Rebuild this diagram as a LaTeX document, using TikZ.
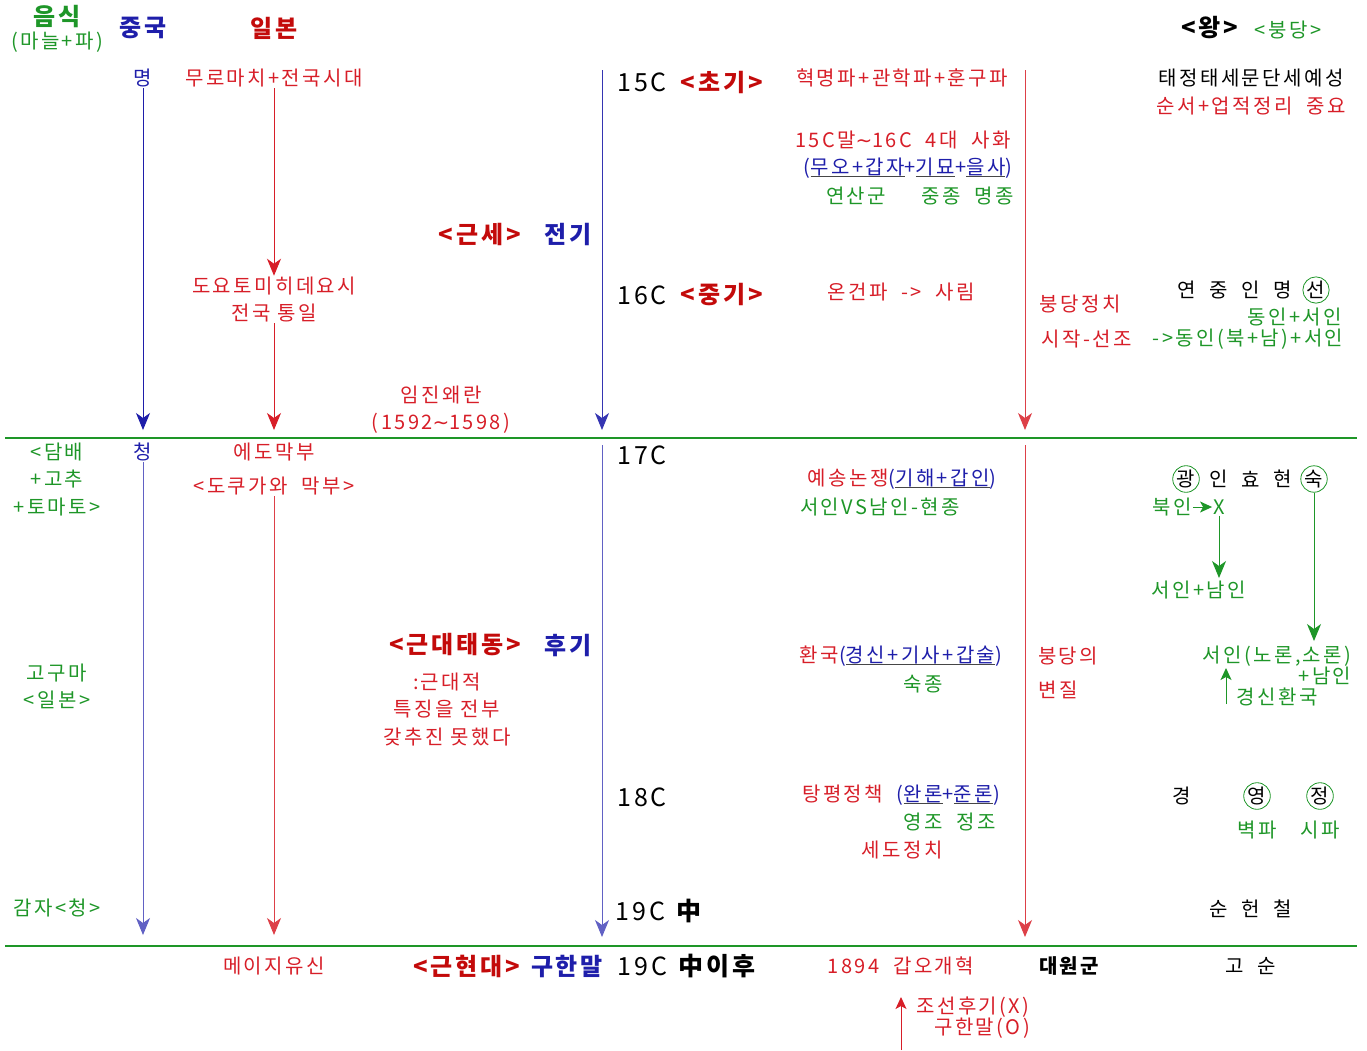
\documentclass[tikz,border=0pt]{standalone}
\usepackage{fontspec}
\setmainfont{Noto Sans CJK KR}[LetterSpace=12]
\newfontfamily\symf{DejaVu Sans}
\usetikzlibrary{arrows.meta}
\definecolor{hred}{RGB}{215,30,40}
\definecolor{dred}{RGB}{195,10,10}
\definecolor{hblue}{RGB}{30,30,170}
\definecolor{hgreen}{RGB}{30,150,40}
\definecolor{ulgray}{RGB}{70,70,70}
\newcommand{\ulg}[1]{\setbox0=\hbox{#1}\rlap{\color{ulgray}\rule[-3pt]{\wd0}{1.1pt}}\box0}
\newcommand{\wave}{{\symf ∼}}
\begin{document}
\begin{tikzpicture}[x=1pt, y=-1pt,
  t/.style={font=\fontsize{20}{23}\selectfont, inner sep=1pt},
  big/.style={font=\fontsize{25}{27}\selectfont, inner sep=1pt},
  hd/.style={font=\fontsize{24}{26}\selectfont\bfseries, inner sep=1pt},
  ck/.style={t, circle, draw=hgreen, line width=0.8pt, inner sep=0.3pt},
  arr/.style={-{Stealth[length=17pt,width=14pt,inset=5pt]}, line width=1pt},
  sarr/.style={-{Stealth[length=12pt,width=11pt,inset=3pt]}, line width=1pt}]
  \useasboundingbox (0,0) rectangle (1367,1050);
  % headings
  \node[hd, text=hgreen] (food) at (57,17) {음식};
  \node[t, text=hgreen] (garlic) at (57,42) {(마늘+파)};
  \node[hd, text=hblue] (china) at (143,28) {중국};
  \node[hd, text=dred] (japan) at (274,28) {일본};
  \node[hd] (king) at (1210,28) {<왕>};
  \node[t, text=hgreen] (faction) at (1288,30) {<붕당>};
  % dividers
  \draw[hgreen, line width=1.2pt] (5,438) -- (1357,438);
  \draw[hgreen, line width=1.2pt] (5,946) -- (1357,946);
  % china / japan, first part
  \node[t, text=hblue] (ming) at (143,78) {명};
  \node[t, text=hred] (muromachi) at (274,78) {무로마치+전국시대};
  \node[t, text=hred] (toyotomi) at (274,286) {도요토미히데요시};
  \node[t, text=hred] (unify) at (274,313) {전국 통일};
  \node[t, text=hred] (imjin) at (441,395) {임진왜란};
  \node[t, text=hred] (imjinyr) at (441,423) {(1592\wave1598)};
  \coordinate (mingend) at (143,430);
  \coordinate (unifyend) at (274,430);
  \draw[arr, hblue] (ming.south) -- (mingend);
  \draw[arr, hred] (muromachi.south) -- (toyotomi.north);
  \draw[arr, hred] (unify.south) -- (unifyend);
  % timeline
  \coordinate (btop) at (602,70);
  \coordinate (bmid) at (602,430);
  \coordinate (btop2) at (602,445);
  \coordinate (bend) at (602,937);
  \coordinate (rtop) at (1025,70);
  \coordinate (rmid) at (1025,430);
  \coordinate (rtop2) at (1025,445);
  \coordinate (rend) at (1025,937);
  \draw[arr, hblue!90!white] (btop) -- (bmid);
  \draw[arr, hblue!70!white] (btop2) -- (bend);
  \draw[arr, hred!85!white] (rtop) -- (rmid);
  \draw[arr, hred!85!white] (rtop2) -- (rend);
  \node[big] (c15) at (642,82) {15C};
  \node[hd, text=dred] (early) at (722,82) {<초기>};
  \node[hd, text=dred] (modern) at (480,234) {<근세>};
  \node[hd, text=hblue] (former) at (568,234) {전기};
  \node[big] (c16) at (642,295) {16C};
  \node[hd, text=dred] (middle) at (722,295) {<중기>};
  \node[big] (c17) at (642,455) {17C};
  \node[hd, text=dred] (premod) at (455,645) {<근대태동>};
  \node[hd, text=hblue] (latter) at (568,645) {후기};
  \node[t, text=hred] (pm1) at (447,682) {:근대적};
  \node[t, text=hred] (pm2) at (447,709) {특징을 전부};
  \node[t, text=hred] (pm3) at (447,737) {갖추진 못했다};
  \node[big] (c18) at (642,797) {18C};
  \node[big] (c19) at (660,911) {19C \textbf{中}};
  % politics, first part
  \node[t, text=hred] (hunku) at (902,78) {혁명파+관학파+훈구파};
  \node[t, text=hred] (sahwa) at (903,140) {15C말\wave16C\ \ 4대\ \ 사화};
  \node[t, text=hblue] (sahwa2) at (908,168) {(\ulg{무오+갑자}+\ulg{기묘}+\ulg{을사})};
  \node[t, text=hgreen] (yeonsan) at (856,196) {연산군};
  \node[t, text=hgreen] (jungjong) at (968,196) {중종\ \ 명종};
  \node[t, text=hred] (sarim) at (901,292) {온건파\ \ ->\ \ 사림};
  \node[t, text=hred] (bung1) at (1080,304) {붕당정치};
  \node[t, text=hred] (bung2) at (1087,339) {시작-선조};
  \node[t] (kings1) at (1251,78) {태정태세문단세예성};
  \node[t, text=hred] (order) at (1251,106) {순서+업적정리\ \ 중요};
  \node[t] (yeonsan2) at (1187,290) {연};
  \node[t] (jung2) at (1219,290) {중};
  \node[t] (injo2) at (1251,290) {인};
  \node[t] (myeong2) at (1283,290) {명};
  \node[ck] (seonjo) at (1316,290) {선};
  \node[t, text=hgreen] (dongseo) at (1295,317) {동인+서인};
  \node[t, text=hgreen] (dongseo2) at (1248,339) {->동인(북+남)+서인};
  % second part
  \node[t, text=hgreen] (tob1) at (57,452) {<담배};
  \node[t, text=hgreen] (tob2) at (57,479) {+고추};
  \node[t, text=hgreen] (tob3) at (57,507) {+토마토>};
  \node[t, text=hblue] (qing) at (143,452) {청};
  \node[t, text=hred] (edo) at (274,452) {에도막부};
  \node[t, text=hred] (tokugawa) at (274,486) {<도쿠가와\ \ 막부>};
  \coordinate (qingend) at (143,935);
  \coordinate (edoend) at (274,935);
  \draw[arr, hblue!70!white] (qing.south) -- (qingend);
  \draw[arr, hred!85!white] (tokugawa.south) -- (edoend);
  \node[t, text=hgreen] (sweet) at (57,673) {고구마};
  \node[t, text=hgreen] (sweetjp) at (57,700) {<일본>};
  \node[t, text=hgreen] (potato) at (57,908) {감자<청>};
  \node[t, text=hblue] (yesong) at (902,479) {\color{hred}예송논쟁\color{hblue}(\ulg{기해+갑인})};
  \node[t, text=hgreen] (hyeonjong) at (880,507) {서인VS남인-현종};
  \node[t, text=hblue] (hwanguk) at (901,656) {\color{hred}환국\color{hblue}(\ulg{경신+기사+갑술})};
  \node[t, text=hgreen] (sukjong) at (923,684) {숙종};
  \node[t, text=hred] (byeon1) at (1068,656) {붕당의};
  \node[t, text=hred] (byeon2) at (1058,690) {변질};
  \node[t, text=hblue] (tangpyeong) at (901,795) {\color{hred}탕평정책\ \ \color{hblue}(\ulg{완론}+\ulg{준론})};
  \node[t, text=hgreen] (yeongjo) at (950,822) {영조\ \ 정조};
  \node[t, text=hred] (sedo) at (902,850) {세도정치};
  \node[ck] (gwang) at (1186,479) {광};
  \node[t] (in) at (1219,479) {인};
  \node[t] (hyo) at (1251,479) {효};
  \node[t] (hyeon) at (1283,479) {현};
  \node[ck] (suk) at (1314,479) {숙};
  \node[t, text=hgreen] (bukin) at (1172,507) {북인};
  \node[t, text=hgreen] (xx) at (1219,507) {X};
  \node[t, text=hgreen] (seonam) at (1199,590) {서인+남인};
  \node[t, text=hgreen] (noron) at (1277,656) {서인(노론,소론)};
  \node[t, text=hgreen] (namin) at (1325,676) {+남인};
  \node[t, text=hgreen] (gyeongsin) at (1277,697) {경신환국};
  \coordinate (gsbot) at (1226,704);
  \coordinate (gstop) at (1226,668);
  \coordinate (seonamtop) at (1219,578);
  \coordinate (norontop) at (1314,641);
  \draw[sarr, hgreen] (bukin.east) -- (xx.west);
  \draw[arr, hgreen] (xx.south) -- (seonamtop);
  \draw[arr, hgreen] (suk.south) -- (norontop);
  \draw[sarr, hgreen] (gsbot) -- (gstop);
  \node[t] (gyeong) at (1182,796) {경};
  \node[ck] (yeong) at (1257,796) {영};
  \node[ck] (jeong) at (1320,796) {정};
  \node[t, text=hgreen] (byeokpa) at (1257,830) {벽파};
  \node[t, text=hgreen] (sipa) at (1320,830) {시파};
  \node[t] (sun) at (1219,909) {순};
  \node[t] (heon) at (1251,909) {헌};
  \node[t] (cheol) at (1283,909) {철};
  % bottom row
  \node[t, text=hred] (meiji) at (274,966) {메이지유신};
  \node[hd, text=dred] (contemp) at (467,966) {<근현대>};
  \node[hd, text=hblue] (guhan) at (567,966) {구한말};
  \node[big] (c19b) at (688,966) {19C\ \textbf{中이후}};
  \node[t, text=hred] (gabo) at (901,966) {1894\ \ 갑오개혁};
  \node[t, font=\fontsize{20}{23}\selectfont\bfseries] (daewon) at (1069,966) {대원군};
  \node[t] (go) at (1235,966) {고};
  \node[t] (sunjong) at (1267,966) {순};
  \node[t, text=hred] (noteX) at (973,1007) {조선후기(X)};
  \node[t, text=hred] (noteO) at (982,1028) {구한말(O)};
  \coordinate (notebot) at (901,1050);
  \coordinate (notetop) at (901,997);
  \draw[sarr, hred] (notebot) -- (notetop);
\end{tikzpicture}
\end{document}
